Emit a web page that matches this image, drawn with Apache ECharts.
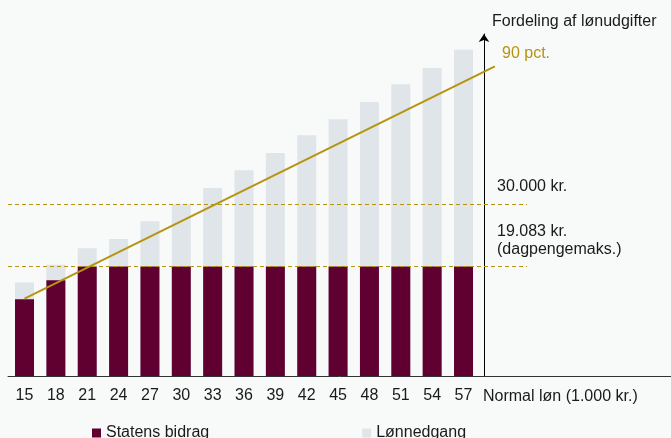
<!DOCTYPE html>
<html>
<head>
<meta charset="utf-8">
<script src="https://cdn.jsdelivr.net/npm/echarts@6/dist/echarts.min.js"></script>
<style>
html,body{margin:0;padding:0;background:#F8F9F9;}
#c{width:671px;height:438px;}
</style>
</head>
<body>
<div id="c"></div>
<script>
// ---- data ----
var categories = [15, 18, 21, 24, 27, 30, 33, 36, 39, 42, 45, 48, 51, 54, 57];
var statensBidrag = [13.4, 16.7, 19.083, 19.083, 19.083, 19.083, 19.083, 19.083, 19.083, 19.083, 19.083, 19.083, 19.083, 19.083, 19.083];
// full bar height (Statens bidrag + Lønnedgang)
var totalBar = [16.3, 19.4, 22.3, 23.9, 27.0, 30.0, 32.8, 35.9, 38.9, 42.0, 44.8, 47.8, 50.9, 53.7, 56.9];
var pctLineX = [15, 60];
var pctLineY = [13.5, 54];
var refLevels = [30, 19.083];

// ---- layout constants ----
var XMIN = 13.42, XMAX = 76.85, YMAX = 59.65, DASH_END = 63.08;
var FONT = '"Liberation Sans", Arial, sans-serif';
var GOLD = '#B59410';
var MAROON = '#5F0030';
var GREY = '#DFE5E8';
var TXT = '#1a1a1a';

var chart = echarts.init(document.getElementById('c'), null, {renderer: 'canvas'});

function pairs(xs, ys) { return xs.map(function (x, i) { return [x, ys[i]]; }); }

function title(text, left, top, color, lh) {
  return {
    text: text, left: left, top: top, padding: 0,
    textStyle: {fontFamily: FONT, fontSize: 16, fontWeight: 'normal', color: color || TXT, lineHeight: lh || 18}
  };
}

var option = {
  backgroundColor: '#F8F9F9',
  animation: false,
  title: [
    title('Fordeling af lønudgifter', 492, 13),
    title('90 pct.', 502, 45, GOLD),
    title('30.000 kr.', 497, 178),
    title('19.083 kr.\n(dagpengemaks.)', 497, 222, TXT, 18.5),
    title('Normal løn (1.000 kr.)', 483, 388)
  ],
  legend: {
    left: 92, top: 425, padding: 0,
    itemWidth: 9, itemHeight: 9, itemGap: 153,
    icon: 'rect',
    textStyle: {fontFamily: FONT, fontSize: 16, color: TXT},
    data: ['Statens bidrag', 'Lønnedgang']
  },
  grid: {left: 8, right: 0, top: 34, bottom: 62, containLabel: false},
  xAxis: {
    type: 'value', min: XMIN, max: XMAX,
    axisLine: {show: true, onZero: false, lineStyle: {color: '#333', width: 1}},
    axisTick: {show: false},
    splitLine: {show: false},
    axisLabel: {
      customValues: categories,
      margin: 12,
      fontFamily: FONT, fontSize: 16, color: TXT
    }
  },
  yAxis: {
    type: 'value', min: 0, max: YMAX,
    position: 'left', offset: -476,
    axisLine: {show: true, symbol: ['none', 'arrow'], symbolSize: [8, 8], lineStyle: {color: '#000', width: 1}},
    axisTick: {show: false},
    axisLabel: {show: false},
    splitLine: {show: false}
  },
  series: [
    {
      name: 'Statens bidrag', type: 'bar', barWidth: 19, barGap: '-100%',
      itemStyle: {color: MAROON},
      data: pairs(categories, statensBidrag),
      z: 3
    },
    {
      name: 'Lønnedgang', type: 'bar', barWidth: 19, barGap: '-100%',
      itemStyle: {color: GREY},
      data: pairs(categories, totalBar),
      z: 2,
      markLine: {
        silent: true, symbol: ['none', 'none'],
        label: {show: false},
        z: 4,
        lineStyle: {color: GOLD, type: [4, 3], width: 1},
        data: refLevels.map(function (v) { return [{coord: [XMIN, v]}, {coord: [DASH_END, v]}]; })
      }
    },
    {
      name: '90 pct.', type: 'line', clip: false, showSymbol: false, symbol: 'none',
      lineStyle: {color: GOLD, width: 2},
      data: pairs(pctLineX, pctLineY),
      z: 5
    }
  ]
};
chart.setOption(option);
</script>
</body>
</html>
